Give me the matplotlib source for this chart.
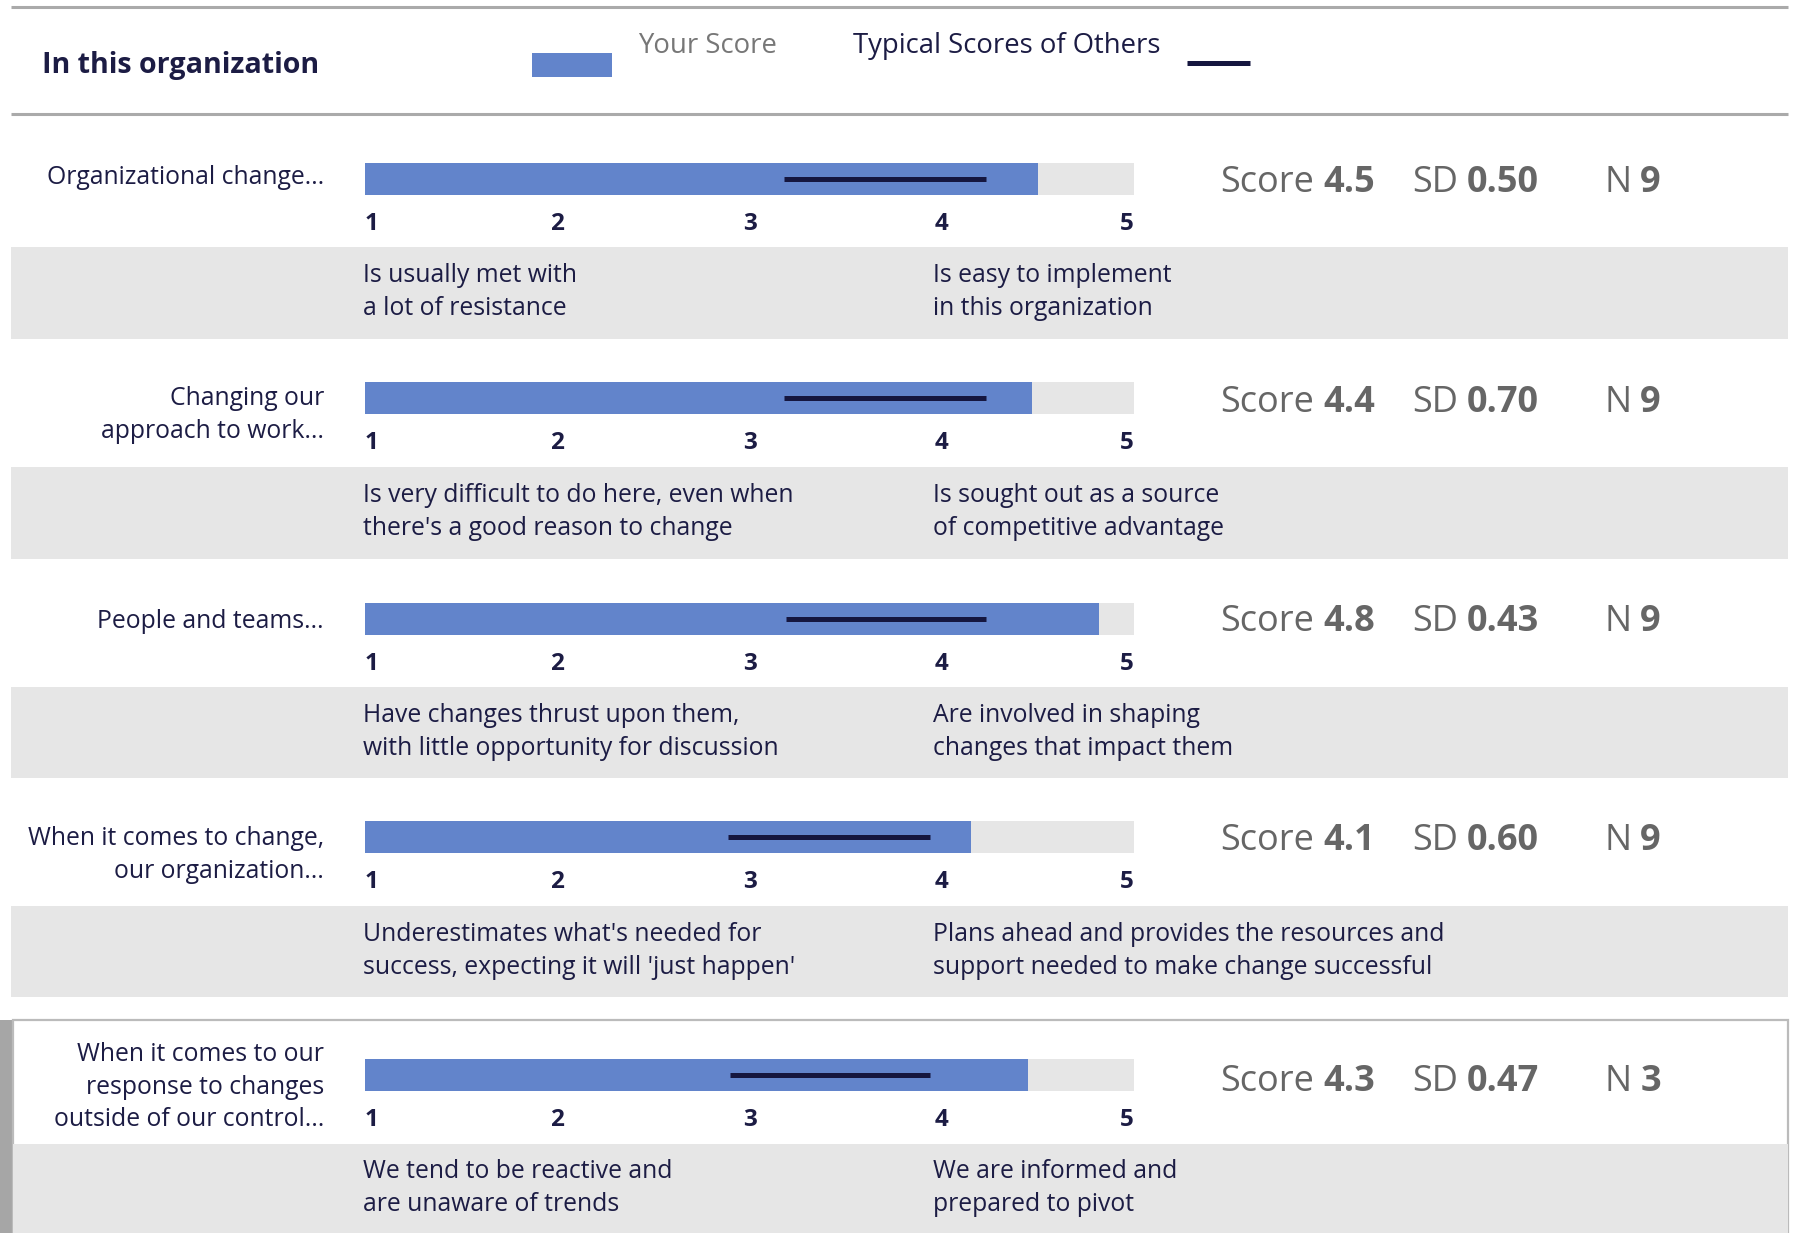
import matplotlib
matplotlib.use("Agg")
import matplotlib.pyplot as plt
from matplotlib.patches import Rectangle

# ---------------- data ----------------
row_labels = [
    "Organizational change...",
    "Changing our\napproach to work...",
    "People and teams...",
    "When it comes to change,\nour organization...",
    "When it comes to our\nresponse to changes\noutside of our control...",
]
your_score_bar = [4.50, 4.47, 4.82, 4.15, 4.45]
typical_low = [3.18, 3.18, 3.19, 2.89, 2.90]
typical_high = [4.23, 4.23, 4.23, 3.94, 3.94]
score_text = ["4.5", "4.4", "4.8", "4.1", "4.3"]
sd_text = ["0.50", "0.70", "0.43", "0.60", "0.47"]
n_text = ["9", "9", "9", "9", "3"]
low_anchor = [
    "Is usually met with\na lot of resistance",
    "Is very difficult to do here, even when\nthere's a good reason to change",
    "Have changes thrust upon them,\nwith little opportunity for discussion",
    "Underestimates what's needed for\nsuccess, expecting it will 'just happen'",
    "We tend to be reactive and\nare unaware of trends",
]
high_anchor = [
    "Is easy to implement\nin this organization",
    "Is sought out as a source\nof competitive advantage",
    "Are involved in shaping\nchanges that impact them",
    "Plans ahead and provides the resources and\nsupport needed to make change successful",
    "We are informed and\nprepared to pivot",
]
tick_values = [1, 2, 3, 4, 5]
tick_labels = ["1", "2", "3", "4", "5"]
title = "In this organization"
legend_your = "Your Score"
legend_typical = "Typical Scores of Others"

# ---------------- style ----------------
W, H = 1795, 1233
FONT = "Open Sans"
NAVY = "#1c1c44"
BLUE = "#6284cb"
TRACK = "#e6e6e6"
BAND = "#e6e6e6"
GREYTXT = "#666666"
LINEC = "#aaaaaa"
TYP = "#15163f"
FS = 17.8

plt.rcParams["font.family"] = [FONT, "DejaVu Sans"]

fig = plt.figure(figsize=(W / 100, H / 100), dpi=100)
bg = fig.add_axes([0, 0, 1, 1])
bg.set_xlim(0, W)
bg.set_ylim(H, 0)
bg.axis("off")

# top header lines
bg.plot([11, 1788], [7, 7], color=LINEC, lw=2.2, solid_capstyle="butt")
bg.plot([11, 1788], [114, 114], color=LINEC, lw=2.2, solid_capstyle="butt")
bg.text(42, 65, title, fontsize=20.6, fontweight="bold", color=NAVY, va="center", ha="left")

# legend
bg.add_patch(Rectangle((532, 53), 80, 24, color=BLUE, lw=0))
bg.text(638, 46, legend_your, fontsize=19.8, color="#777777", va="center", ha="left")
bg.text(853, 46, legend_typical, fontsize=19.8, color=NAVY, va="center", ha="left")
bg.plot([1187, 1250], [63, 63], color=TYP, lw=3.6, solid_capstyle="butt")

# row geometry (pixels)
bar_top = [163, 382, 603, 821, 1059]
band_top = [247, 467, 687, 906, 1144]
band_h = [92, 92, 91, 91, 89]
label_cy = [178, 415, 622, 855, 1087]
score_cy = [183, 403, 622, 841, 1082]
anchor_cy = [292, 512, 732, 951, 1188]
BAR_X0, BAR_W, BAR_H = 365, 769, 32

# last row box
bg.add_patch(Rectangle((0, 1020), 13, H - 1020, color="#a6a6a6", lw=0))
bg.add_patch(Rectangle((13, 1020), 1775, H - 1020 + 5, facecolor="white",
                       edgecolor="#bbbbbb", lw=1.6))

for i in range(5):
    bg.add_patch(Rectangle((13 if i == 4 else 11, band_top[i]), 1777 if i < 4 else 1775,
                           band_h[i] + (5 if i == 4 else 0), color=BAND, lw=0))
    bg.text(324, label_cy[i], row_labels[i], fontsize=FS, color=NAVY,
            ha="right", va="center", linespacing=1.4)
    bg.text(363, anchor_cy[i], low_anchor[i], fontsize=FS, color=NAVY,
            ha="left", va="center", linespacing=1.4)
    bg.text(933, anchor_cy[i], high_anchor[i], fontsize=FS, color=NAVY,
            ha="left", va="center", linespacing=1.4)

    ax = fig.add_axes([BAR_X0 / W, 1 - (bar_top[i] + BAR_H) / H, BAR_W / W, BAR_H / H])
    ax.set_facecolor(TRACK)
    ax.set_xlim(1, 5)
    ax.set_ylim(-0.5, 0.5)
    ax.barh(0, your_score_bar[i] - 1, left=1, height=1.0, color=BLUE, lw=0)
    ax.hlines(0, typical_low[i], typical_high[i], color=TYP, lw=3.6)
    for s in ax.spines.values():
        s.set_visible(False)
    ax.set_yticks([])
    ax.set_xticks(tick_values)
    ax.set_xticklabels(tick_labels, fontsize=17.5, fontweight="bold", color=NAVY)
    ax.tick_params(axis="x", length=0, pad=12.5)
    tl = ax.get_xticklabels()
    tl[0].set_ha("left")
    tl[-1].set_ha("right")

# score / SD / N texts, with bold values placed after their labels
fig.canvas.draw()
renderer = fig.canvas.get_renderer()
inv = bg.transData.inverted()
for i in range(5):
    for x, lab, val in [(1220, "Score", score_text[i]), (1412, "SD", sd_text[i]),
                        (1604, "N", n_text[i])]:
        t = bg.text(x, score_cy[i], lab, fontsize=26, color=GREYTXT, ha="left", va="center")
        bb = t.get_window_extent(renderer)
        xr = inv.transform((bb.x1, bb.y0))[0]
        bg.text(xr + 9, score_cy[i], val, fontsize=26, fontweight="bold", color=GREYTXT,
                ha="left", va="center")

fig.savefig("out.png", dpi=100)
